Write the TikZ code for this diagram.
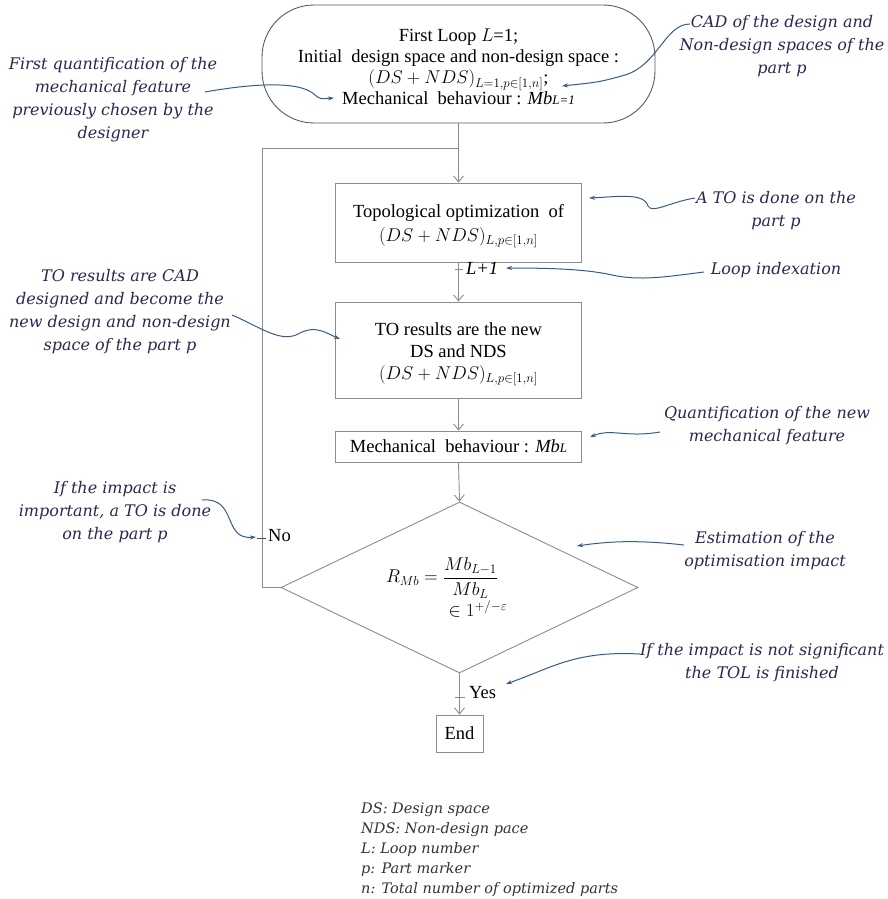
\RequirePackage{fix-cm}
\documentclass[tikz,border=0pt]{standalone}
\usepackage{fontspec}
\usepackage{amsmath}
\setmainfont{Liberation Serif}
\newfontfamily\annfont{DejaVu Serif}
\usetikzlibrary{shapes.geometric,arrows.meta,calc}
\definecolor{flowgray}{RGB}{140,140,140}
\definecolor{pillgray}{RGB}{90,90,90}
\definecolor{anncol}{RGB}{40,40,80}
\definecolor{arrcol}{RGB}{55,90,135}
\newcommand{\smallsub}[1]{{\fontsize{13}{13}\selectfont #1}}
\tikzset{
  mainfont/.style={font=\fontsize{18.5}{21}\selectfont},
  procbox/.style={draw=flowgray, line width=0.9pt, mainfont, align=center, inner sep=0pt},
  boxtext/.style={mainfont, align=center, inner sep=0pt},
  flow/.style={draw=flowgray, line width=0.9pt, -{Straight Barb[length=6pt,width=10pt]}},
  flowline/.style={draw=flowgray, line width=0.9pt},
  ann/.style={text=anncol, font=\annfont\itshape\fontsize{16}{23}\selectfont, align=center},
  annarrow/.style={draw=arrcol, line width=1pt, -{Stealth[length=6pt,width=4pt]}},
  lbl/.style={mainfont, anchor=west, inner sep=0pt}
}
\begin{document}
\begin{tikzpicture}[x=1pt,y=-1pt]
\useasboundingbox (0,0) rectangle (888,899);
% main flow
\node[procbox, draw=pillgray, rounded corners=52pt, minimum width=393pt, minimum height=118pt] (pill) at (458.5,64) {};
\node[boxtext] (pilltext) at (458.5,67)
  {First Loop $L$=1;\\
   Initial\ \ design space and non-design space :\\
   $(DS+NDS)_{L=1,p\in[1,n]}$;\\
   Mechanical\ \ behaviour : {\itshape Mb\smallsub{L=1}}};
\node[procbox, minimum width=246pt, minimum height=79pt] (box1) at (458.5,222.5) {};
\node[boxtext] (box1text) at (458.5,226)
  {Topological optimization\ \ of\\[3pt] $(DS+NDS)_{L,p\in[1,n]}$};
\node[procbox, minimum width=246pt, minimum height=96pt] (box2) at (458.5,350) {};
\node[boxtext] (box2text) at (458.5,354)
  {TO results\ are the new\\[1pt] DS and NDS\\[1pt] $(DS+NDS)_{L,p\in[1,n]}$};
\node[procbox, minimum width=246pt, minimum height=31pt] (box3) at (458.5,446.5)
  {Mechanical\ \ behaviour : {\itshape Mb\smallsub{L}}};
\node[draw=flowgray, line width=0.9pt, diamond, aspect=2.09, minimum width=357pt, minimum height=171pt, inner sep=0pt] (dec) at (459.5,587.5) {};
\node[mainfont] (frac) at (442,578) {$R_{Mb}=\dfrac{Mb_{L-1}}{Mb_L}$};
\node[mainfont] (eps) at (478,609) {$\in 1^{+/-\varepsilon}$};
\node[procbox, minimum width=47pt, minimum height=37pt] (endb) at (459.5,733.5) {End};

\coordinate (join) at (458.5,148);
\draw[flowline] (pill.south) -- (join);
\draw[flow] (join) -- (box1.north);
\draw[flow] (box1.south) -- (box2.north);
\draw[flow] (box2.south) -- (box3.north);
\draw[flow] (box3.south) -- (dec.north);
\draw[flow] (dec.south) -- (endb.north);
\draw[flowline] (dec.west) -- (262,587.5) -- (262,148) -- (join);
% ticks and labels
\coordinate (tL) at (458.5,269);
\draw[flowline] ($(tL)+(-4,0)$) -- ($(tL)+(4,0)$);
\node[lbl] (Lp) at (466,268) {\itshape L+1};
\coordinate (tNo) at (262,538);
\draw[flowline, draw=black!70] ($(tNo)+(-5,0)$) -- ($(tNo)+(4,0)$);
\node[lbl] (no) at (268,536) {No};
\coordinate (tYes) at (459.5,697);
\draw[flowline] ($(tYes)+(-5,0)$) -- ($(tYes)+(5,0)$);
\node[lbl] (yes) at (469,693) {Yes};

% annotations
\node[ann] (a1) at (113,100) {First quantification of the\\ mechanical feature\\ previously chosen by the\\ designer};
\node[ann] (a2) at (782,46) {CAD of the design and\\ Non-design spaces of the\\ part p};
\node[ann] (a3) at (776,211) {A TO is done on the\\ part p};
\node[ann] (a4) at (776,270) {Loop indexation};
\node[ann] (a5) at (120,312) {TO results are CAD\\ designed and become the\\ new design and non-design\\ space of the part p};
\node[ann] (a6) at (767,426) {Quantification of the new\\ mechanical feature};
\node[ann] (a7) at (115,512) {If the impact is\\ important, a TO is done\\ on the part p};
\node[ann] (a8) at (765,551) {Estimation of the\\ optimisation impact};
\node[ann] (a9) at (762,663) {If the impact is not significant\\ the TOL is finished};

\coordinate (s1) at (205,92);   \coordinate (e1) at (334,98);
\draw[annarrow] (s1) .. controls (250,84) and (300,80) .. (315,95) .. controls (320,99) .. (e1);
\coordinate (s2) at (690,24);   \coordinate (e2) at (562,86);
\draw[annarrow] (s2) .. controls (665,24) and (658,65) .. (625,75) .. controls (600,82) .. (e2);
\coordinate (s3) at (695,198);  \coordinate (e3) at (589,198);
\draw[annarrow] (s3) .. controls (670,202) and (652,214) .. (648,206) .. controls (644,192) and (615,197) .. (e3);
\coordinate (s4) at (704,272);  \coordinate (e4) at (506,268);
\draw[annarrow] (s4) .. controls (665,277) and (640,281) .. (612,275) .. controls (590,270) and (560,268) .. (e4);
\coordinate (s5) at (232,315);  \coordinate (e5) at (340,339);
\draw[annarrow] (s5) .. controls (262,328) and (282,344) .. (300,333) .. controls (316,325) and (326,333) .. (e5);
\coordinate (s6) at (660,432);  \coordinate (e6) at (590,437);
\draw[annarrow] (s6) .. controls (625,438) and (612,428) .. (e6);
\coordinate (s7) at (202,500);  \coordinate (e7) at (256,537);
\draw[annarrow] (s7) .. controls (238,497) and (222,540) .. (e7);
\coordinate (s8) at (684,545);  \coordinate (e8) at (577,546);
\draw[annarrow] (s8) .. controls (640,540) and (610,541) .. (e8);
\coordinate (s9) at (640,654);  \coordinate (e9) at (506,684);
\draw[annarrow] (s9) .. controls (600,652) and (575,657) .. (545,669) .. controls (530,675) and (520,679) .. (e9);

% legend
\node[anchor=north west, align=left, text=black!80, font=\annfont\itshape\fontsize{14.5}{20}\selectfont, inner sep=0pt] (legend) at (361,803)
  {DS: Design space\\ NDS: Non-design pace\\ L: Loop number\\ p: Part marker\\ n: Total number of optimized parts};
\end{tikzpicture}
\end{document}
